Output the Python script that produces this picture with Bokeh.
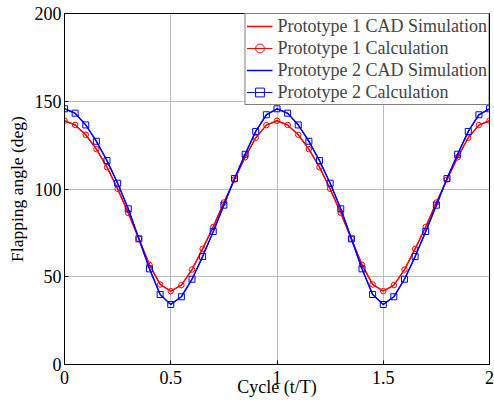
from bokeh.plotting import figure
from bokeh.models import Legend, LegendItem, Range1d, FixedTicker
from bokeh.embed import file_html
from bokeh.resources import INLINE

cycle = [0.00, 0.05, 0.10, 0.15, 0.20, 0.25, 0.30, 0.35, 0.40, 0.45,
         0.50, 0.55, 0.60, 0.65, 0.70, 0.75, 0.80, 0.85, 0.90, 0.95,
         1.00, 1.05, 1.10, 1.15, 1.20, 1.25, 1.30, 1.35, 1.40, 1.45,
         1.50, 1.55, 1.60, 1.65, 1.70, 1.75, 1.80, 1.85, 1.90, 1.95, 2.00]

proto1 = [138.9, 136.5, 130.9, 122.7, 112.4, 100.1, 86.4, 71.6, 56.8, 45.6,
          41.8, 45.2, 54.1, 65.9, 78.4, 92.3, 105.4, 118.1, 129.2, 136.4,
          138.9, 136.5, 130.9, 122.7, 112.4, 100.1, 86.4, 71.6, 56.8, 45.6,
          41.8, 45.2, 54.1, 65.9, 78.4, 92.3, 105.4, 118.1, 129.2, 136.4, 138.9]

proto2 = [145.7, 143.2, 136.5, 127.2, 116.2, 103.3, 88.7, 71.6, 54.5, 39.9,
          34.2, 38.6, 48.6, 61.5, 75.8, 90.8, 106.0, 119.8, 132.8, 142.3,
          145.7, 143.2, 136.5, 127.2, 116.2, 103.3, 88.7, 71.6, 54.5, 39.9,
          34.2, 38.6, 48.6, 61.5, 75.8, 90.8, 106.0, 119.8, 132.8, 142.3, 145.7]

x_ticks = [0, 0.5, 1, 1.5, 2]
y_ticks = [0, 50, 100, 150, 200]

FONT = "Liberation Serif"

p = figure(width=494, height=405, output_backend="svg", toolbar_location=None,
           x_range=Range1d(0, 2), y_range=Range1d(0, 200),
           min_border_left=64, min_border_right=5, min_border_top=13, min_border_bottom=41)

p.outline_line_color = "black"
p.outline_line_width = 1
p.background_fill_color = "white"
p.border_fill_color = "white"

for ax in (p.xaxis[0], p.yaxis[0]):
    ax.major_label_text_font = FONT
    ax.major_label_text_font_size = "18px"
    ax.axis_label_text_font = FONT
    ax.axis_label_text_font_style = "normal"
    ax.major_tick_in = 4
    ax.major_tick_out = 0
    ax.minor_tick_line_color = None
    ax.axis_line_color = "black"
    ax.major_tick_line_color = "black"
    ax.major_label_text_color = "black"
    ax.axis_label_text_color = "black"

p.xaxis.axis_label_text_font_size = "18px"
p.yaxis.axis_label_text_font_size = "17.5px"
p.xaxis.major_label_standoff = 6
p.yaxis.major_label_standoff = 3

p.xaxis.ticker = FixedTicker(ticks=x_ticks)
p.yaxis.ticker = FixedTicker(ticks=y_ticks)
p.xaxis.axis_label = "Cycle (t/T)"
p.yaxis.axis_label = "Flapping angle (deg)"
p.xaxis.axis_label_standoff = -10
p.yaxis.axis_label_standoff = 5

p.xgrid.grid_line_color = "#bcbcbc"
p.ygrid.grid_line_color = "#bcbcbc"
p.xgrid.grid_line_width = 1
p.ygrid.grid_line_width = 1

r1 = p.line(cycle, proto1, line_color="#ff0000", line_width=1.5)
r2 = p.line(cycle, proto1, line_color="#ff0000", line_width=1)
r2m = p.scatter(cycle, proto1, marker="circle", size=5.5, line_color="#ff0000",
                fill_color=None, line_width=1)
r3 = p.line(cycle, proto2, line_color="#0000ff", line_width=1.5)
r4 = p.line(cycle, proto2, line_color="#0000ff", line_width=1)
r4m = p.scatter(cycle, proto2, marker="square", size=6, line_color="#0000ff",
                fill_color=None, line_width=1)

legend = Legend(items=[
    LegendItem(label="Prototype 1 CAD Simulation", renderers=[r1]),
    LegendItem(label="Prototype 1 Calculation", renderers=[r2, r2m]),
    LegendItem(label="Prototype 2 CAD Simulation", renderers=[r3]),
    LegendItem(label="Prototype 2 Calculation", renderers=[r4, r4m]),
], location="top_right")
legend.label_text_font = FONT
legend.label_text_font_size = "18px"
legend.label_height = 22
legend.glyph_height = 22
legend.glyph_width = 26
legend.spacing = 0
legend.padding = 1
legend.margin = 0
legend.label_standoff = 5
legend.border_line_color = "black"
legend.border_line_width = 1
legend.background_fill_alpha = 1
p.add_layout(legend)

open("out.html", "w").write(file_html(p, INLINE))
